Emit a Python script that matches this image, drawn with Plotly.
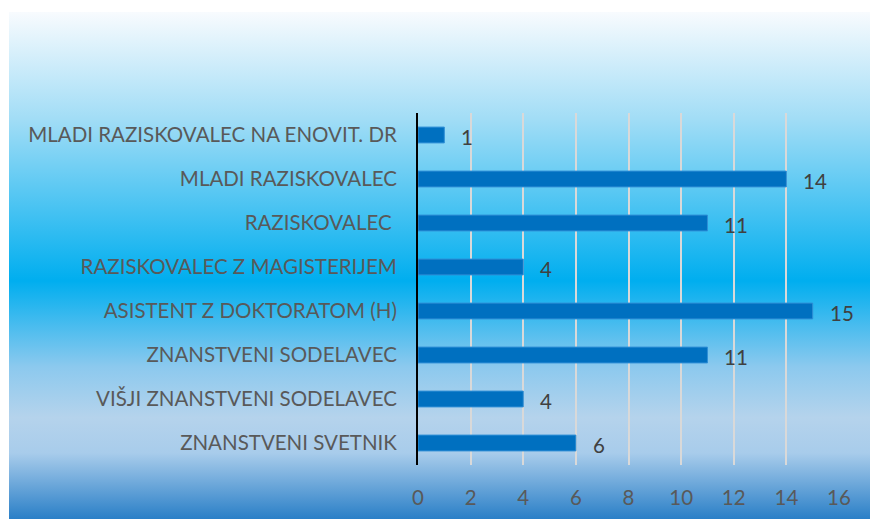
import base64
import plotly.graph_objects as go

categories = [
    "ZNANSTVENI SVETNIK",
    "VIŠJI ZNANSTVENI SODELAVEC",
    "ZNANSTVENI SODELAVEC",
    "ASISTENT Z DOKTORATOM (H)",
    "RAZISKOVALEC Z MAGISTERIJEM",
    "RAZISKOVALEC\u00a0",
    "MLADI RAZISKOVALEC",
    "MLADI RAZISKOVALEC NA ENOVIT. DR",
]
values = [6, 4, 11, 15, 4, 11, 14, 1]
x_ticks = [0, 2, 4, 6, 8, 10, 12, 14, 16]

W, H = 870, 519
L, R, T, B = 418, 31, 113, 54
pw, ph = W - L - R, H - T - B
FONT = "Lato, 'Open Sans', sans-serif"

svg = """<svg xmlns='http://www.w3.org/2000/svg' width='100' height='100' preserveAspectRatio='none' viewBox='0 0 100 100'>
<defs><linearGradient id='g' x1='0' y1='0' x2='0' y2='1'>
<stop offset='0' stop-color='#f8fbfe'/>
<stop offset='0.21' stop-color='#a2ddf6'/>
<stop offset='0.53' stop-color='#00aeef'/>
<stop offset='0.70' stop-color='#8cc9ee'/>
<stop offset='0.80' stop-color='#b5d3ec'/>
<stop offset='0.87' stop-color='#a8cceb'/>
<stop offset='1' stop-color='#2a7fc7'/>
</linearGradient></defs>
<rect width='100' height='100' fill='url(#g)'/></svg>"""
src = "data:image/svg+xml;base64," + base64.b64encode(svg.encode()).decode()

fig = go.Figure()
fig.add_trace(go.Bar(
    x=values, y=categories, orientation="h",
    marker=dict(color="#0070c0", line=dict(color="#2f8fd6", width=1)),
    width=0.36, hoverinfo="skip",
))

for v, c in zip(values, categories):
    fig.add_annotation(x=v, y=c, text=str(v), showarrow=False, xanchor="left",
                       xshift=15, yshift=-2,
                       font=dict(family=FONT, size=20.5, color="#404040"))

px0, py0 = 9, 12
fig.add_layout_image(dict(
    source=src, xref="paper", yref="paper",
    x=(px0 - L) / pw, y=(H - B - py0) / ph,
    sizex=(W - px0) / pw, sizey=(H - py0) / ph,
    xanchor="left", yanchor="top", sizing="stretch", layer="below",
))

fig.update_layout(
    width=W, height=H, autosize=False,
    margin=dict(l=L, r=R, t=T, b=B, pad=0, autoexpand=False),
    paper_bgcolor="white", plot_bgcolor="rgba(0,0,0,0)",
    showlegend=False,
    font=dict(family=FONT, size=20.5, color="#595959"),
    xaxis=dict(range=[0, 16], tickvals=x_ticks, showgrid=True, gridcolor="#d9d9d9",
               gridwidth=2, zeroline=False, showline=False, ticks="outside",
               ticklen=14, tickcolor="rgba(0,0,0,0)", fixedrange=True, automargin=False),
    yaxis=dict(showgrid=False, zeroline=False, showline=True, linecolor="black",
               linewidth=2, ticks="outside", ticklen=15, tickcolor="rgba(0,0,0,0)",
               range=[-0.5, 7.5], fixedrange=True, automargin=False),
    bargap=0.64,
)

fig.write_html("out.html",
               config={"displayModeBar": False, "responsive": False},
               post_script="document.body.style.margin='0';document.body.style.overflow='hidden';")
